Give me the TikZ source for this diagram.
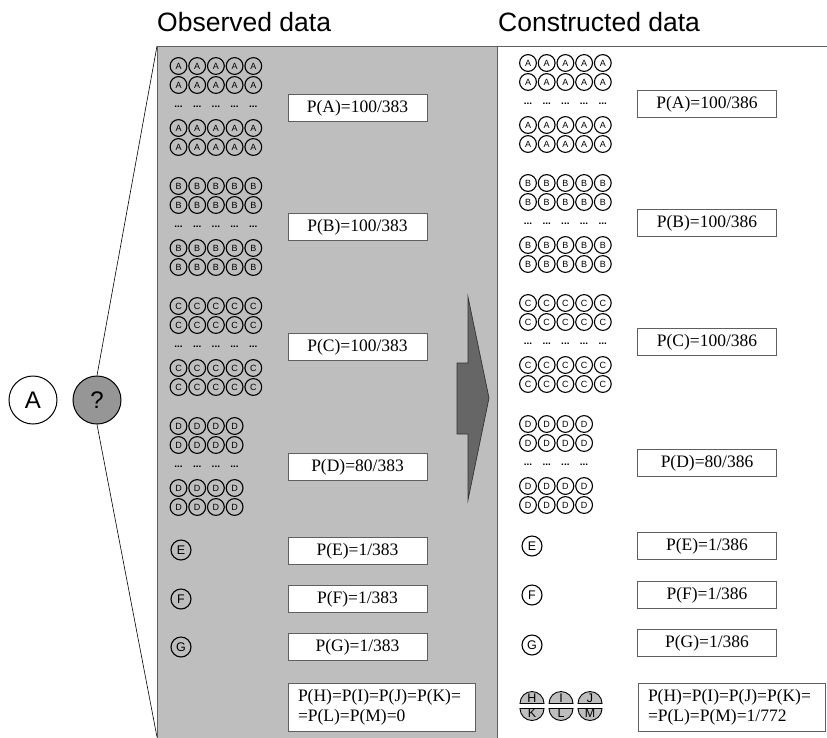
\documentclass[tikz,border=0pt]{standalone}
\usepackage{fontspec}
\setmainfont{Liberation Serif}
\setsansfont{Liberation Sans}
\definecolor{panelgray}{RGB}{190,190,190}
\definecolor{edgegray}{RGB}{95,95,95}
\definecolor{qgray}{RGB}{150,150,150}
\definecolor{arrowgray}{RGB}{102,102,102}

% grid of letter tokens: name, letter, first x, first y, columns
\newcommand\tokgrid[5]{%
  \foreach \c in {1,...,#5}{%
    \pgfmathsetmacro\xx{#3+(\c-1)*18.7}%
    \foreach \r/\dy in {1/0,2/19,3/62,4/81}{%
      \node[tok] (#1-\r-\c) at (\xx,#4+\dy) {#2};%
    }%
    \node[gapdots] (#1-d-\c) at (\xx,#4+41) {...};%
  }%
}

\begin{document}
\begin{tikzpicture}[x=1pt,y=-1pt,
  tok/.style={circle,draw=black,line width=1.1pt,minimum size=16.8pt,inner sep=0pt,
    font=\sffamily\fontsize{9}{9}\selectfont},
  gapdots/.style={inner sep=0pt,font=\sffamily\bfseries\fontsize{10}{10}\selectfont},
  single/.style={circle,draw=black,line width=1.1pt,minimum size=20pt,inner sep=0pt,
    font=\sffamily\fontsize{12.5}{12.5}\selectfont},
  big/.style={circle,draw=black,line width=1pt,minimum size=48pt,inner sep=0pt,
    font=\sffamily\fontsize{24}{24}\selectfont},
  probbox/.style={draw=edgegray,fill=white,line width=0.8pt,minimum width=139pt,
    minimum height=27pt,inner sep=0pt,font=\fontsize{17.5}{20}\selectfont},
  widebox/.style={draw=edgegray,fill=white,line width=0.8pt,text width=167pt,
    inner xsep=10pt,inner ysep=0pt,minimum height=48pt,align=left,
    font=\fontsize{17.5}{20}\selectfont},
  title/.style={anchor=base west,inner sep=0pt,font=\sffamily\fontsize{26.5}{26.5}\selectfont},
  half/.style={fill=panelgray,draw=black,line width=0.9pt},
  halflabel/.style={inner sep=0pt,font=\sffamily\fontsize{12.5}{12.5}\selectfont},
]
\useasboundingbox (0,0) rectangle (827,737);

% observed-data panel and the edge of the constructed-data panel
\fill[panelgray] (157,46) rectangle (497,745);
\draw[edgegray,line width=0.9pt] (157,745) -- (157,46) -- (827,46);
\draw[edgegray,line width=0.9pt] (497,46) -- (497,745);
\coordinate (ptl) at (157,46);
\coordinate (pbl) at (157,737);

% titles
\node[title] (tobs) at (157,31) {Observed data};
\node[title] (tcon) at (498,31) {Constructed data};

% the known token and the unknown one
\node[big] (ka) at (33,400) {A};
\node[big,fill=qgray] (kq) at (97,400) {?};
\draw[black,line width=0.6pt] (kq.north) -- (ptl);
\draw[black,line width=0.6pt] (kq.south) -- (pbl);

% observed data
\tokgrid{oA}{A}{178.5}{66}{5}
\tokgrid{oB}{B}{178.5}{186}{5}
\tokgrid{oC}{C}{178.5}{306}{5}
\tokgrid{oD}{D}{178.5}{426}{4}
\node[single] (oE) at (181,550) {E};
\node[single] (oF) at (181,599) {F};
\node[single] (oG) at (181,647) {G};

\node[probbox] (pA) at (357.5,108) {P(A)=100/383};
\node[probbox] (pB) at (357.5,227) {P(B)=100/383};
\node[probbox] (pC) at (357.5,347) {P(C)=100/383};
\node[probbox] (pD) at (357.5,467) {P(D)=80/383};
\node[probbox] (pE) at (357.5,551) {P(E)=1/383};
\node[probbox] (pF) at (357.5,599) {P(F)=1/383};
\node[probbox] (pG) at (357.5,647) {P(G)=1/383};
\node[widebox] (pH) at (381.5,707) {P(H)=P(I)=P(J)=P(K)=\\=P(L)=P(M)=0};

% construction arrow
\draw[fill=arrowgray,draw=black!80,line width=0.7pt]
  (468,297) -- (489,398) -- (468,500) -- (468,434) -- (457,434)
  -- (457,363) -- (468,363) -- cycle;

% constructed data
\tokgrid{cA}{A}{528}{63}{5}
\tokgrid{cB}{B}{528}{183}{5}
\tokgrid{cC}{C}{528}{303}{5}
\tokgrid{cD}{D}{528}{424}{4}
\node[single] (cE) at (532,546) {E};
\node[single] (cF) at (532,595) {F};
\node[single] (cG) at (532,645) {G};

\node[probbox] (qA) at (707,104) {P(A)=100/386};
\node[probbox] (qB) at (707,223) {P(B)=100/386};
\node[probbox] (qC) at (707,342) {P(C)=100/386};
\node[probbox] (qD) at (707,463) {P(D)=80/386};
\node[probbox] (qE) at (707,546) {P(E)=1/386};
\node[probbox] (qF) at (707,595) {P(F)=1/386};
\node[probbox] (qG) at (707,643) {P(G)=1/386};
\node[widebox] (qH) at (731.5,707.5) {P(H)=P(I)=P(J)=P(K)=\\=P(L)=P(M)=1/772};

% split tokens for the unseen letters (y grows downwards here)
\foreach \x/\up/\dn in {532/H/K,561/I/L,590/J/M}{
  \draw[half] (\x-12,703.5) arc[start angle=180,end angle=360,radius=12] -- cycle;
  \draw[half] (\x-12,708.5) arc[start angle=180,end angle=0,radius=12] -- cycle;
  \node[halflabel] (h\up) at (\x,698) {\up};
  \node[halflabel] (h\dn) at (\x,713.5) {\dn};
}
\end{tikzpicture}
\end{document}
